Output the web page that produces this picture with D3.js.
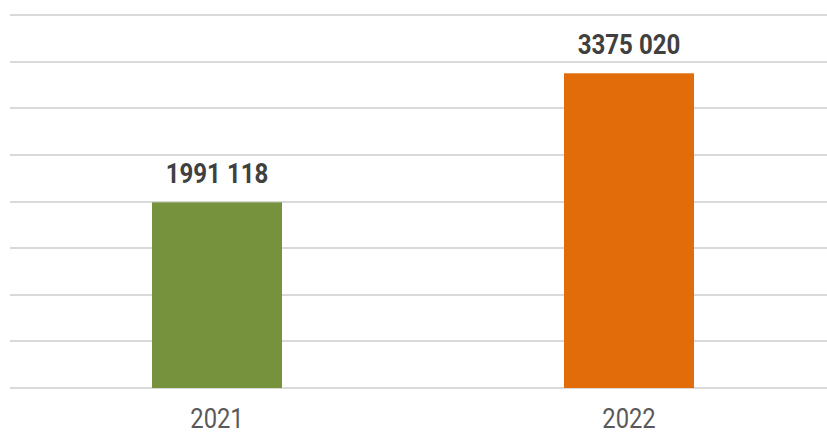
<!DOCTYPE html>
<html>
<head>
<meta charset="utf-8">
<script src="https://cdn.jsdelivr.net/npm/d3@7"></script>
<style>
  body { margin: 0; background: #fff; }
  svg { display: block; }
  .grid line { stroke: #d9d9d9; stroke-width: 2; }
  .value-label { font-family: Roboto, "Noto Sans", sans-serif; font-weight: 700; fill: #404040; }
  .cat-label { font-family: Roboto, "Noto Sans", sans-serif; font-weight: 400; fill: #595959; }
</style>
</head>
<body>
<svg id="chart" width="827" height="434"></svg>
<script>
// data
var years = ["2021", "2022"];
var values = [1991118, 3375020];
var barColors = ["#76923c", "#e36c0a"];
var gridTicks = [0, 500000, 1000000, 1500000, 2000000, 2500000, 3000000, 3500000, 4000000];

var width = 827, height = 434;
var margin = {top: 15, bottom: 46, left: 11, right: -8};

var svg = d3.select("#chart");

var x = d3.scaleBand()
	.domain(years)
	.range([margin.left, width - margin.right])
	.padding(0);

var y = d3.scaleLinear()
	.domain([0, 4000000])
	.range([height - margin.bottom, margin.top]);

// only the last group is split off, as in the original: "1991 118"
function fmt(v){
	var s = String(v);
	return s.slice(0, -3) + " " + s.slice(-3);
}

// horizontal gridlines
svg.append("g")
	.classed("grid", true)
	.selectAll("line")
	.data(gridTicks)
	.enter()
	.append("line")
	.attr("x1", 10)
	.attr("x2", width)
	.attr("y1", function(d){ return Math.round(y(d)); })
	.attr("y2", function(d){ return Math.round(y(d)); });

var barW = x.bandwidth() * 0.3155;

svg.append("g")
	.selectAll("rect")
	.data(values)
	.enter()
	.append("rect")
	.attr("x", function(d, i){ return x(years[i]) + x.bandwidth() / 2 - barW / 2; })
	.attr("y", function(d){ return y(d); })
	.attr("width", barW)
	.attr("height", function(d){ return y(0) - y(d); })
	.style("fill", function(d, i){ return barColors[i]; });

// condensed look: squeeze text horizontally
function squeezed(sel, cx, cy, sx){
	sel.attr("transform", "translate(" + cx + "," + cy + ") scale(" + sx + ",1)");
}

svg.append("g")
	.selectAll("text")
	.data(values)
	.enter()
	.append("text")
	.classed("value-label", true)
	.attr("text-anchor", "middle")
	.style("font-size", "28px")
	.text(function(d){ return fmt(d); })
	.each(function(d, i){
		squeezed(d3.select(this), x(years[i]) + x.bandwidth() / 2, y(d) - 19, 0.86);
	});

svg.append("g")
	.selectAll("text")
	.data(years)
	.enter()
	.append("text")
	.classed("cat-label", true)
	.attr("text-anchor", "middle")
	.style("font-size", "27px")
	.text(function(d){ return d; })
	.each(function(d){
		squeezed(d3.select(this), x(d) + x.bandwidth() / 2, 428, 0.88);
	});
</script>
</body>
</html>
